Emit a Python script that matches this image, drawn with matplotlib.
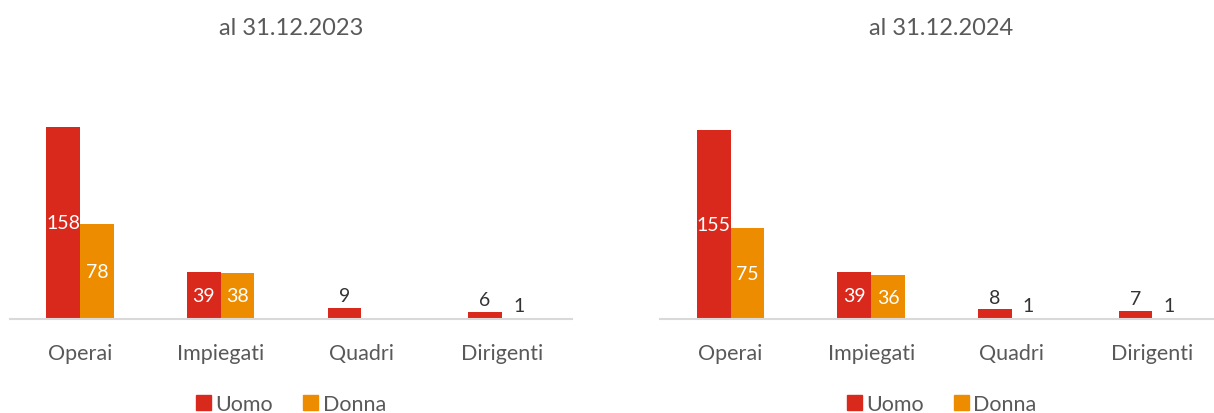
import matplotlib
matplotlib.use("Agg")
import matplotlib.pyplot as plt
import numpy as np
from matplotlib.patches import Patch

plt.rcParams['font.family'] = ['Lato', 'DejaVu Sans']

categorie = ['Operai', 'Impiegati', 'Quadri', 'Dirigenti']
titoli = ['al 31.12.2023', 'al 31.12.2024']
uomo_2023 = [158, 39, 9, 6]
donna_2023 = [78, 38, 0, 1]
uomo_2024 = [155, 39, 8, 7]
donna_2024 = [75, 36, 1, 1]

ROSSO = '#D9291C'
ARANCIO = '#EE8C00'
GRIGIO = '#595959'

fig = plt.figure(figsize=(12.14, 4.14), dpi=100)
posizioni = [[0.0082, 0.227, 0.463, 0.529], [0.544, 0.227, 0.463, 0.529]]
serie = [(uomo_2023, donna_2023), (uomo_2024, donna_2024)]

x = np.arange(len(categorie))
w = 0.24

for pos, titolo, (uomo, donna), anno in zip(posizioni, titoli, serie, [2023, 2024]):
    ax = fig.add_axes(pos)
    ax.bar(x - w/2, uomo, w, color=ROSSO, label='Uomo')
    col_d = [ARANCIO if v > 2 or anno == 2023 else '#FBE3C8' for v in donna]
    ax.bar(x + w/2, donna, w, color=col_d, label='Donna')
    ax.set_xlim(-0.5, 3.5)
    ax.set_ylim(0, 180)
    for s in ['top', 'right', 'left']:
        ax.spines[s].set_visible(False)
    ax.spines['bottom'].set_color('#D9D9D9')
    ax.spines['bottom'].set_linewidth(1.5)
    ax.set_yticks([])
    ax.set_xticks(x)
    ax.set_xticklabels(categorie, fontsize=15.5, color=GRIGIO)
    ax.tick_params(axis='x', length=0, pad=17)

    cx = pos[0] + pos[2] / 2
    fig.text(cx, 0.932, titolo, ha='center', va='center', fontsize=17, color=GRIGIO)

    for xs, vals in [(x - w/2, uomo), (x + w/2, donna)]:
        for xi, v in zip(xs, vals):
            if v == 0:
                continue
            if v >= 30:
                ax.text(xi, v/2, str(v), ha='center', va='center', fontsize=14, color='white')
            else:
                ax.text(xi, v + 3, str(v), ha='center', va='bottom', fontsize=14, color='#333333')

    handles = [Patch(color=ROSSO, label='Uomo'), Patch(color=ARANCIO, label='Donna')]
    fig.legend(handles=handles, loc='center', bbox_to_anchor=(cx, 0.022), ncol=2, frameon=False,
               fontsize=15.5, labelcolor=GRIGIO, handlelength=0.7, handleheight=0.7,
               handletextpad=0.2, columnspacing=1.4, borderpad=0, borderaxespad=0)

fig.savefig('out.png', dpi=100)
